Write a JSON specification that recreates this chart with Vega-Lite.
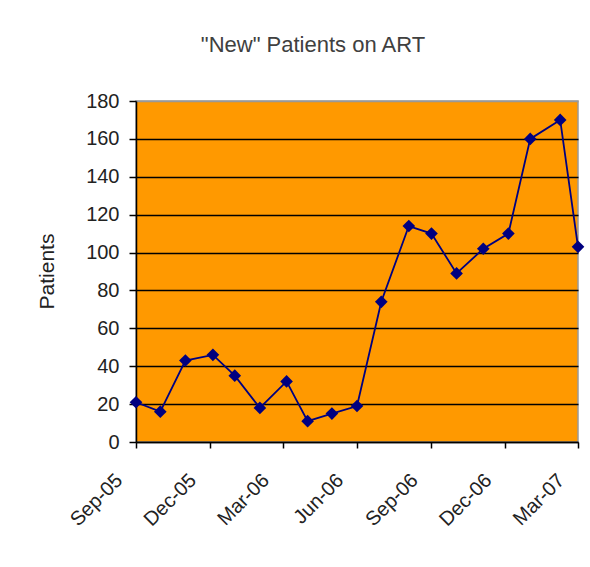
{
  "$schema": "https://vega.github.io/schema/vega-lite/v6.json",
  "width": 442,
  "height": 341,
  "autosize": "none",
  "padding": {"left": 136, "top": 101, "right": 12, "bottom": 125},
  "background": "white",
  "title": {
    "text": "\"New\" Patients on ART",
    "font": "Liberation Sans",
    "fontSize": 22,
    "fontWeight": "normal",
    "color": "#404040",
    "anchor": "middle",
    "dx": -44,
    "offset": 34
  },
  "config": {
    "view": {"fill": "#FF9900", "stroke": "#999999", "strokeWidth": 1.5},
    "axis": {
      "labelFont": "Liberation Sans",
      "titleFont": "Liberation Sans",
      "labelFontSize": 20,
      "titleFontSize": 21,
      "labelColor": "#222222",
      "titleColor": "#222222",
      "titleFontWeight": "normal",
      "domainColor": "#000000",
      "domainWidth": 1.5,
      "tickColor": "#000000",
      "tickWidth": 1.5
    }
  },
  "data": {
    "values": [
      {"month": "2005-09-01", "patients": 21},
      {"month": "2005-10-01", "patients": 16},
      {"month": "2005-11-01", "patients": 43},
      {"month": "2005-12-05", "patients": 46},
      {"month": "2006-01-01", "patients": 35},
      {"month": "2006-02-01", "patients": 18},
      {"month": "2006-03-06", "patients": 32},
      {"month": "2006-04-01", "patients": 11},
      {"month": "2006-05-01", "patients": 15},
      {"month": "2006-06-01", "patients": 19},
      {"month": "2006-07-01", "patients": 74},
      {"month": "2006-08-04", "patients": 114},
      {"month": "2006-09-01", "patients": 110},
      {"month": "2006-10-02", "patients": 89},
      {"month": "2006-11-04", "patients": 102},
      {"month": "2006-12-05", "patients": 110},
      {"month": "2007-01-01", "patients": 160},
      {"month": "2007-02-07", "patients": 170},
      {"month": "2007-03-01", "patients": 103}
    ]
  },
  "encoding": {
    "x": {
      "field": "month",
      "type": "temporal",
      "scale": {
        "type": "utc",
        "domain": [
          {"year": 2005, "month": 9, "date": 1, "utc": true},
          {"year": 2007, "month": 3, "date": 1, "utc": true}
        ]
      },
      "axis": {
        "title": null,
        "grid": false,
        "format": "%b-%y",
        "values": [
          {"year": 2005, "month": 9, "date": 1, "utc": true},
          {"year": 2005, "month": 12, "date": 1, "utc": true},
          {"year": 2006, "month": 3, "date": 1, "utc": true},
          {"year": 2006, "month": 6, "date": 1, "utc": true},
          {"year": 2006, "month": 9, "date": 1, "utc": true},
          {"year": 2006, "month": 12, "date": 1, "utc": true},
          {"year": 2007, "month": 3, "date": 1, "utc": true}
        ],
        "labelAngle": -45,
        "labelAlign": "right",
        "labelBaseline": "middle",
        "labelPadding": 29,
        "labelOffset": -17,
        "tickSize": 6,
        "labelOverlap": false,
        "labelFlush": false
      }
    },
    "y": {
      "field": "patients",
      "type": "quantitative",
      "scale": {"domain": [0, 180], "nice": false, "zero": true},
      "axis": {
        "title": "Patients",
        "values": [0, 20, 40, 60, 80, 100, 120, 140, 160, 180],
        "tickSize": 7,
        "labelPadding": 10,
        "grid": true,
        "gridColor": {"condition": {"test": "datum.value === 180", "value": "#999999"}, "value": "#000000"},
        "gridWidth": 1.3,
        "titleX": -89,
        "titleY": 170,
        "titleBaseline": "middle",
        "titleAngle": -90
      }
    }
  },
  "layer": [
    {"mark": {"type": "line", "color": "#000080", "strokeWidth": 1.8}},
    {"mark": {"type": "point", "shape": "diamond", "filled": true, "opacity": 1, "size": 160, "color": "#000080"}}
  ]
}
